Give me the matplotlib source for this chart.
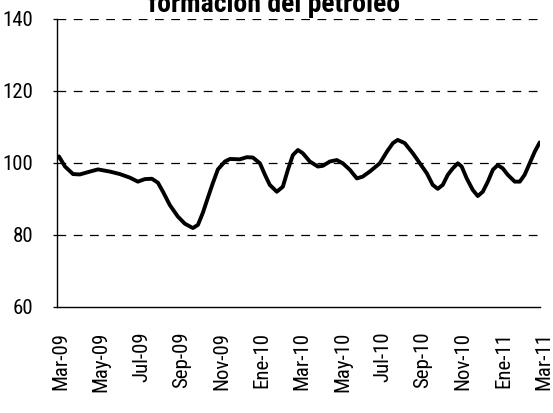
import matplotlib
matplotlib.use('Agg')
import matplotlib.pyplot as plt
import matplotlib.transforms as mtransforms
from matplotlib import font_manager

# meses transcurridos desde Mar-09 y valor del índice
meses = [0.00, 0.10, 0.25, 0.40, 0.80, 1.14, 1.64, 2.04, 2.63, 3.13, 3.63, 4.02,
         4.37, 4.72, 5.02, 5.27, 5.61, 6.01, 6.36, 6.76, 7.01, 7.25, 7.50, 7.75,
         8.00, 8.35, 8.60, 9.09, 9.44, 9.74, 10.09, 10.34, 10.58, 10.93, 11.23,
         11.48, 11.73, 11.98, 12.22, 12.57, 12.97, 13.22, 13.57, 13.91, 14.21,
         14.56, 14.91, 15.20, 15.55, 16.05, 16.40, 16.70, 16.94, 17.29, 17.69,
         18.04, 18.39, 18.68, 18.93, 19.18, 19.43, 19.68, 19.93, 20.12, 20.37,
         20.67, 20.92, 21.17, 21.42, 21.67, 21.91, 22.16, 22.41, 22.76, 23.01,
         23.25, 23.50, 23.75, 24.00]
valores = [101.4, 101.8, 100.4, 99.0, 96.9, 96.8, 97.6, 98.2, 97.6, 96.9, 95.9, 94.8,
           95.5, 95.6, 94.5, 92.0, 88.3, 85.1, 83.1, 81.9, 82.8, 86.1, 90.3, 94.4,
           98.2, 100.4, 101.1, 101.0, 101.6, 101.5, 99.9, 96.7, 93.9, 92.0, 93.4,
           98.1, 102.2, 103.6, 102.7, 100.4, 99.0, 99.2, 100.4, 100.8, 99.9,
           98.1, 95.7, 96.2, 97.6, 99.9, 103.1, 105.5, 106.4, 105.5, 102.7,
           99.9, 97.1, 93.9, 92.8, 93.9, 96.7, 98.5, 99.9, 99.0, 95.7,
           92.5, 90.8, 92.0, 94.8, 98.1, 99.4, 98.5, 96.7, 94.8, 94.8,
           96.7, 99.9, 103.1, 105.7]

etiquetas = ['Mar-09', 'May-09', 'Jul-09', 'Sep-09', 'Nov-09', 'Ene-10', 'Mar-10',
             'May-10', 'Jul-10', 'Sep-10', 'Nov-10', 'Ene-11', 'Mar-11']
pos_etiquetas = list(range(0, 25, 2))
yticks = [60, 80, 100, 120, 140]
titulo = 'formación del petróleo'

# buscar una fuente estrecha parecida a Arial Narrow
disponibles = set(f.name for f in font_manager.fontManager.ttflist)
fuente = 'DejaVu Sans'
for nombre in ['Liberation Sans Narrow', 'Arial Narrow', 'Roboto Condensed',
               'Archivo Narrow', 'PT Sans Narrow', 'Sofia Sans Condensed',
               'Asap Condensed', 'Saira SemiCondensed']:
    if nombre in disponibles:
        fuente = nombre
        break
plt.rcParams['font.family'] = [fuente, 'DejaVu Sans']

fig = plt.figure(figsize=(5.53, 4.13), dpi=100)
ax = fig.add_axes([0.103, 0.257, 0.873, 0.697])

ax.plot(meses, valores, color='black', linewidth=2.8, solid_joinstyle='round',
        solid_capstyle='round')

ax.set_xlim(0, 24)
ax.set_ylim(60, 140)
ax.set_yticks(yticks)
ax.set_yticklabels([str(v) for v in yticks], fontsize=15)
ax.set_xticks(pos_etiquetas)
ax.set_xticklabels(etiquetas, rotation=90, fontsize=15)

# lineas de guia discontinuas
for v in yticks[1:]:
    ax.axhline(v, color='black', linewidth=0.9, linestyle=(0, (7, 6)), zorder=0)

ax.spines['top'].set_visible(False)
ax.spines['right'].set_visible(False)
ax.spines['left'].set_linewidth(1.0)
ax.spines['bottom'].set_linewidth(1.0)
ax.tick_params(axis='y', direction='out', length=3, width=0.9, pad=14)
ax.tick_params(axis='x', length=0, pad=18)

# desplazar un poco las etiquetas del eje x
offset = mtransforms.ScaledTranslation(0.04, 0, fig.dpi_scale_trans)
for lab in ax.get_xticklabels():
    lab.set_transform(lab.get_transform() + offset)

fig.text(0.496, 1 - 12 / 413, titulo, ha='center', va='baseline',
         fontsize=20, fontweight='bold')

fig.savefig('out.png', dpi=100)
